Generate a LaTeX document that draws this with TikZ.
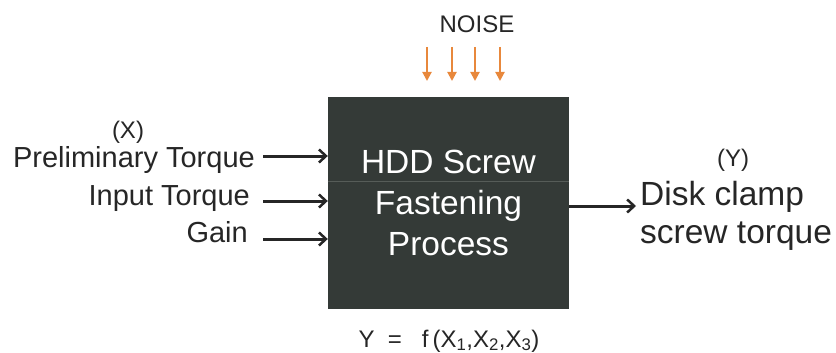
\documentclass[tikz,border=0pt]{standalone}
\usepackage{fontspec}
\setmainfont{Liberation Sans}
\usepackage{tikz}
\usetikzlibrary{arrows.meta,positioning}
\definecolor{boxgray}{RGB}{52,58,55}
\definecolor{glossgray}{RGB}{86,92,88}
\definecolor{noiseorange}{RGB}{232,136,60}
\definecolor{txtgray}{RGB}{38,38,38}
\tikzset{
  >={Straight Barb[length=7pt,width=13pt,line width=2.5pt]},
  lbl/.style={text=txtgray, inner sep=0pt, font=\fontsize{29}{33}\selectfont},
  small/.style={text=txtgray, inner sep=0pt, font=\fontsize{24}{28}\selectfont},
  big/.style={text=txtgray, inner sep=0pt, align=left, font=\fontsize{33.5}{38}\selectfont},
  process/.style={fill=boxgray, draw=none, minimum width=241pt, minimum height=212pt,
    text=white, align=center, font=\fontsize{33.5}{41}\selectfont},
  inarrow/.style={->, draw=txtgray, line width=3pt},
  noisearrow/.style={-{Triangle[length=9pt,width=9pt]}, draw=noiseorange, line width=2pt},
}

\begin{document}
\begin{tikzpicture}[x=1pt, y=-1pt]
    \useasboundingbox (0,0) rectangle (836,353);
    % Proceso
    \node[process] (box) at (448.5,203) {HDD Screw\\Fastening\\Process};
    \draw[glossgray, line width=1pt] (box.west |- 0,181) -- (box.east |- 0,181);
    % Ruido
    \node[small] (noise) at (477,24) {NOISE};
    \foreach \x [count=\i] in {427,452,475,500} {
      \coordinate (n\i) at (\x,47);
      \coordinate (m\i) at (\x,81);
      \draw[noisearrow] (n\i) -- (m\i);
    }
    % Entradas
    \node[small, anchor=base] (xlab) at (128,138) {(X)};
    \node[lbl, anchor=base east] (prelim) at (255,167) {Preliminary Torque};
    \node[lbl, anchor=base east] (input) at (250,205) {Input Torque};
    \node[lbl, anchor=base east] (gain) at (248,242) {Gain};
    \coordinate (i1) at (263,156);
    \coordinate (i2) at (263,201);
    \coordinate (i3) at (263,239);
    \path
      (i1) edge[inarrow] (i1 -| box.west)
      (i2) edge[inarrow] (i2 -| box.west)
      (i3) edge[inarrow] (i3 -| box.west);
    % Salida
    \node[small, anchor=base] (ylab) at (733,166) {(Y)};
    \node[big, anchor=base west] (out) at (640,243) {Disk clamp\\screw torque};
    \coordinate (o1) at (box.east |- 0,206);
    \coordinate (o2) at (636,206);
    \draw[inarrow] (o1) -- (o2);
    % Funcion
    \node[small] (func) at (449,341)
      {Y\ \ =\ \ \ f\,(X\textsubscript{1},X\textsubscript{2},X\textsubscript{3})};
\end{tikzpicture}
\end{document}
